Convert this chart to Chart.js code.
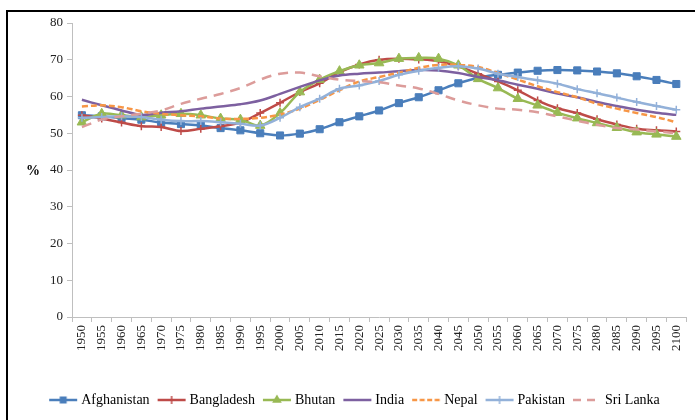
<!DOCTYPE html>
<html>
<head>
<meta charset="utf-8">
<script src="https://cdn.jsdelivr.net/npm/chart.js@4.4.1/dist/chart.umd.min.js"></script>
<style>
html,body{margin:0;padding:0;background:#fff;}
#wrap{position:relative;width:695px;height:420px;overflow:hidden;background:#fff;}
#frame{position:absolute;left:6px;top:10px;width:720px;height:440px;border-left:2px solid #000;border-top:2px solid #000;box-sizing:border-box;}
#c{position:absolute;left:0;top:0;}
</style>
</head>
<body>
<div id="wrap"><div id="frame"></div><canvas id="c" width="695" height="420" style="width:695px;height:420px"></canvas></div>
<script>
const years = ['1950','1955','1960','1965','1970','1975','1980','1985','1990','1995','2000','2005','2010','2015','2020','2025','2030','2035','2040','2045','2050','2055','2060','2065','2070','2075','2080','2085','2090','2095','2100'];
const afghanistan = [54.9,54.6,54.1,53.7,52.9,52.5,52.1,51.4,50.8,50.0,49.4,49.9,51.1,53.0,54.6,56.2,58.2,59.8,61.7,63.6,65.1,65.9,66.5,67.0,67.2,67.1,66.8,66.3,65.5,64.5,63.4];
const bangladesh = [54.9,54.0,52.9,51.9,51.7,50.6,51.2,51.9,52.9,55.5,58.3,61.2,63.6,66.6,68.7,70.0,70.3,70.1,69.6,68.2,66.2,64.1,61.7,58.9,56.8,55.5,53.8,52.4,51.2,50.8,50.5];
const bhutan = [53.0,55.3,54.9,54.4,54.9,55.3,54.9,54.0,53.7,52.1,55.5,61.2,64.6,66.9,68.5,69.1,70.3,70.5,70.3,68.5,64.8,62.3,59.4,57.6,55.6,54.1,52.8,51.5,50.3,49.7,49.1];
const india = [59.1,57.6,56.2,55.0,55.6,56.0,56.7,57.3,57.9,58.9,60.7,62.6,64.4,65.7,66.2,66.5,66.9,67.2,67.1,66.4,65.3,64.4,63.2,62.1,60.8,59.8,58.5,57.4,56.4,55.6,55.0];
const nepal = [57.3,57.6,57.1,56.0,55.3,54.9,54.6,54.0,53.9,54.2,55.1,56.7,59.1,61.7,64.1,65.3,66.5,67.8,68.6,68.6,68.0,66.4,64.6,62.8,61.2,59.8,58.0,56.7,55.5,54.4,53.0];
const pakistan = [54.2,54.4,54.6,54.4,53.7,53.3,53.3,53.0,52.6,52.1,54.2,57.1,59.4,62.1,63.0,64.2,65.9,67.0,67.8,68.2,67.6,66.2,65.3,64.4,63.5,62.0,60.9,59.7,58.5,57.4,56.4];
const sriLanka = [51.7,53.7,54.6,55.3,56.2,58.0,59.4,60.7,62.3,64.6,66.2,66.5,65.5,64.6,64.2,63.9,63.0,62.2,60.7,58.9,57.6,56.7,56.4,55.7,54.6,53.4,52.3,51.4,51.0,50.5,50.0];
const seriesNames = ['Afghanistan','Bangladesh','Bhutan','India','Nepal','Pakistan','Sri Lanka'];
const yMin = 0, yMax = 80, yStep = 10;
const yAxisLabel = '%';

const FONT = "'Liberation Serif','Times New Roman',serif";
const styles = [
  {color:'#4a7ebb', dash:[], marker:'rect', r:5},
  {color:'#be4b48', dash:[], marker:'cross', r:4},
  {color:'#98b954', dash:[], marker:'triangle', r:5.5},
  {color:'#7d60a0', dash:[], marker:false, r:0},
  {color:'#f79646', dash:[6,3], marker:false, r:0},
  {color:'#93b1d9', dash:[], marker:'cross', r:4},
  {color:'#dc9c9a', dash:[10,7], marker:false, r:0}
];
const values = [afghanistan,bangladesh,bhutan,india,nepal,pakistan,sriLanka];

function legendIcon(st){
  const cv = document.createElement('canvas');
  cv.width = 30; cv.height = 14;
  const g = cv.getContext('2d');
  g.strokeStyle = st.color; g.lineWidth = 2.5; g.setLineDash(st.dash.length ? (st.dash[0]>8?[8,6]:[5,2.5]) : []);
  g.beginPath(); g.moveTo(1,7); g.lineTo(29,7); g.stroke();
  g.setLineDash([]);
  g.fillStyle = st.color; g.lineWidth = 1.5;
  if (st.marker === 'rect'){ g.fillRect(15-3.5,7-3.5,7,7); }
  else if (st.marker === 'triangle'){ g.beginPath(); g.moveTo(15,7-5.5); g.lineTo(15+4.8,7+2.75); g.lineTo(15-4.8,7+2.75); g.closePath(); g.fill(); }
  else if (st.marker === 'cross'){ g.beginPath(); g.moveTo(15,3); g.lineTo(15,11); g.moveTo(11,7); g.lineTo(19,7); g.stroke(); }
  return cv;
}

const datasets = values.map((v,i)=>({
  label: seriesNames[i],
  data: v,
  borderColor: styles[i].color,
  backgroundColor: styles[i].color,
  borderWidth: 2.5,
  borderDash: styles[i].dash,
  tension: 0.35,
  fill: false,
  pointStyle: styles[i].marker || 'circle',
  pointRadius: styles[i].marker ? styles[i].r : 0,
  pointHoverRadius: styles[i].marker ? styles[i].r : 0,
  pointBorderWidth: styles[i].marker === 'cross' ? 1.5 : 1,
  pointBackgroundColor: styles[i].color,
  pointBorderColor: styles[i].color,
  order: 6 - i,
  _icon: legendIcon(styles[i])
}));

const yTitlePlugin = {
  id: 'yTitle',
  afterDraw(chart){
    const ctx = chart.ctx, a = chart.chartArea;
    ctx.save();
    ctx.font = "bold 14px " + FONT;
    ctx.fillStyle = '#000';
    ctx.textAlign = 'center'; ctx.textBaseline = 'middle';
    ctx.fillText(yAxisLabel, 33, (a.top + a.bottom)/2 + 1);
    ctx.restore();
  }
};

const PLOT_BOTTOM = 317;
const PAD_LEFT = 22;
new Chart(document.getElementById('c'), {
  type: 'line',
  data: { labels: years, datasets },
  options: {
    responsive: false,
    animation: false,
    devicePixelRatio: 1,
    layout: { padding: { left: PAD_LEFT, right: 5, top: 23, bottom: 3 } },
    plugins: {
      tooltip: { enabled: false },
      legend: {
        position: 'bottom',
        labels: {
          usePointStyle: true,
          pointStyleWidth: 22,
          padding: 11,
          color: '#000',
          font: { family: FONT, size: 14 },
          generateLabels(chart){
            return chart.data.datasets.map((d,i)=>({
              text: d.label, pointStyle: d._icon, fillStyle: d.borderColor, strokeStyle: d.borderColor,
              lineWidth: 0, hidden: false, datasetIndex: i, fontColor: '#000'
            }));
          }
        }
      }
    },
    scales: {
      x: {
        type: 'category',
        offset: true,
        grid: { display: true, drawOnChartArea: false, drawTicks: true, tickLength: 5, offset: true, color: '#bfbfbf' },
        border: { display: true, color: '#bfbfbf', width: 1 },
        ticks: { autoSkip: false, minRotation: 90, maxRotation: 90, padding: 3, color: '#222', font: { family: FONT, size: 13 } },
        afterFit(scale){ scale.height = 420 - 3 - scale.chart.legend.height - PLOT_BOTTOM; }
      },
      y: {
        min: yMin, max: yMax,
        grid: { display: true, drawOnChartArea: false, drawTicks: true, tickLength: 5, color: '#bfbfbf' },
        border: { display: true, color: '#bfbfbf', width: 1 },
        ticks: { stepSize: yStep, padding: 4, color: '#222', font: { family: FONT, size: 13 } },
        afterFit(scale){ scale.width = 72 - PAD_LEFT; }
      }
    }
  },
  plugins: [yTitlePlugin]
});
</script>
</body>
</html>
